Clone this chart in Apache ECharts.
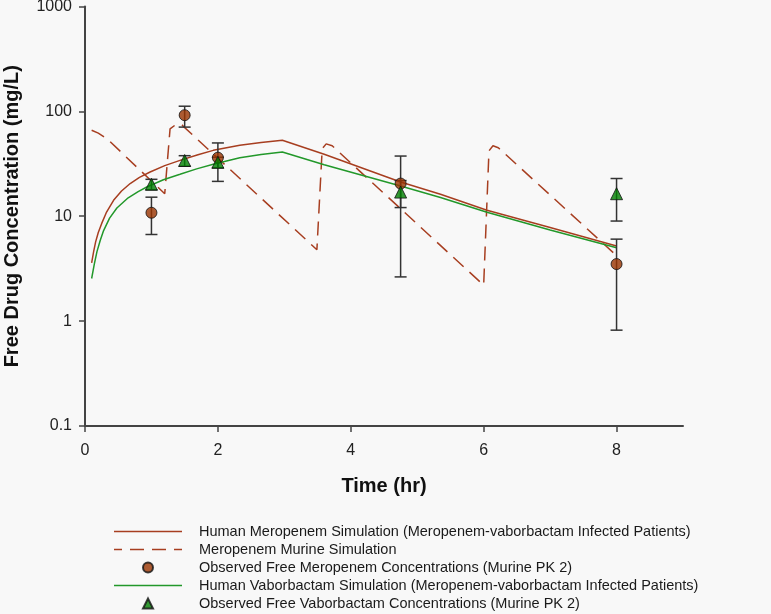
<!DOCTYPE html>
<html>
<head>
<meta charset="utf-8">
<script src="https://cdn.jsdelivr.net/npm/echarts@6/dist/echarts.min.js"></script>
<style>
html,body{margin:0;padding:0;background:#f8f8f8;}
#chart{width:771px;height:614px;}
</style>
</head>
<body>
<div id="chart"></div>
<script>
// ---- Data ----
const xTicks = [0, 2, 4, 6, 8];

const humanMeroTime = [0.1, 0.13, 0.16, 0.2, 0.25, 0.32, 0.43, 0.55, 0.68, 0.82, 0.98, 1.2, 1.43, 1.7, 1.93, 2.33, 2.65, 2.97, 3.6, 4.75, 5.35, 6.05, 7, 8];
const humanMeroConc = [3.6, 4.6, 5.7, 7.0, 8.5, 10.8, 14.2, 17.4, 20.5, 23.5, 26.4, 30.4, 34.1, 38.6, 42.5, 47.5, 50.5, 53, 39, 21.2, 16.2, 11.4, 7.8, 5.2];

const murineMeroTime = [0.1, 0.2, 0.33, 1.2, 1.28, 1.38, 1.46, 3.49, 3.57, 3.63, 3.72, 6.0, 6.08, 6.14, 6.22, 7.95];
const murineMeroConc = [66, 62, 55, 16.4, 68, 76, 74, 4.8, 44, 49, 47, 2.2, 42, 47, 45, 4.5];

const obsMeroTime = [1, 1.5, 2, 4.75, 8];
const obsMeroConc = [10.8, 92, 36.2, 20.5, 3.5];
const obsMeroLow  = [6.7, 70.8, 21.5, 2.64, 0.82];
const obsMeroHigh = [15.2, 112, 50, 37.5, 6.05];

const humanVaboTime = [0.1, 0.14, 0.18, 0.23, 0.28, 0.37, 0.48, 0.65, 0.8, 0.93, 1.18, 1.43, 1.68, 1.93, 2.33, 2.65, 2.97, 3.6, 4.75, 5.35, 6.05, 7, 8];
const humanVaboConc = [2.55, 3.5, 4.6, 5.9, 7.3, 9.6, 12.0, 15.0, 17.2, 19.0, 22.3, 25.1, 28.3, 31.3, 36.2, 38.8, 41, 31, 19.4, 15.1, 10.9, 7.4, 5.0];

const obsVaboTime = [1, 1.5, 2, 4.75, 8];
const obsVaboConc = [20.2, 34, 32.7, 17, 16.4];
const obsVaboLow  = [17.9, 30, 29, 12.1, 9.0];
const obsVaboHigh = [22.5, 37.8, 36.5, 21.9, 22.9];

const names = [
  'Human Meropenem Simulation (Meropenem-vaborbactam Infected Patients)',
  'Meropenem Murine Simulation',
  'Observed Free Meropenem Concentrations (Murine PK 2)',
  'Human Vaborbactam Simulation (Meropenem-vaborbactam Infected Patients)',
  'Observed Free Vaborbactam Concentrations (Murine PK 2)'
];

// ---- Build series data ----
const zip = (a, b) => a.map((v, i) => [v, b[i]]);
const zip3 = (a, b, c) => a.map((v, i) => [v, b[i], c[i]]);

const brownLine = '#a73e20';
const greenLine = '#22982a';
const brownMark = '#993300';
const greenMark = '#008000';

function errRender(params, api) {
  const x = api.value(0), lo = api.value(1), hi = api.value(2);
  const p1 = api.coord([x, lo]);
  const p2 = api.coord([x, hi]);
  const w = 6;
  const st = { stroke: '#333333', lineWidth: 1.5 };
  return {
    type: 'group',
    children: [
      { type: 'line', shape: { x1: p1[0], y1: p1[1], x2: p2[0], y2: p2[1] }, style: st },
      { type: 'line', shape: { x1: p1[0] - w, y1: p1[1], x2: p1[0] + w, y2: p1[1] }, style: st },
      { type: 'line', shape: { x1: p2[0] - w, y1: p2[1], x2: p2[0] + w, y2: p2[1] }, style: st }
    ]
  };
}

// legend icon shapes (68 x 10 box)
const corners = 'M0,0h0.01v0.01h-0.01z M67.99,9.99h0.01v0.01h-0.01z ';
const solidIcon = 'path://' + corners + 'M0,4.25h68v1.5h-68z';
const dashedIcon = 'path://' + corners + 'M0,4.25h8v1.5h-8z M16,4.25h14v1.5h-14z M38,4.25h14v1.5h-14z M60,4.25h8v1.5h-8z';
const triIcon = 'path://M0,10L5,0L10,10z';

const chart = echarts.init(document.getElementById('chart'), null, { renderer: 'canvas' });

const axisColor = '#444444';
const fontFam = 'Liberation Sans, Arial, sans-serif';
const option = {
  backgroundColor: '#f8f8f8',
  animation: false,
  grid: { left: 85, right: 88, top: 6.5, bottom: 188, containLabel: false, outerBoundsMode: 'none' },
  legend: {
    orient: 'vertical',
    left: 109,
    top: 519,
    height: 200,
    itemWidth: 68,
    itemHeight: 10,
    itemGap: 3,
    symbolKeepAspect: true,
    data: [
      { name: names[0], icon: solidIcon, itemStyle: { color: brownLine, borderWidth: 0 } },
      { name: names[1], icon: dashedIcon, itemStyle: { color: brownLine, borderWidth: 0 } },
      { name: names[2], icon: 'circle' },
      { name: names[3], icon: solidIcon, itemStyle: { color: greenLine, borderWidth: 0 } },
      { name: names[4], icon: triIcon }
    ],
    textStyle: {
      fontFamily: fontFam,
      fontSize: 14.5,
      color: '#1a1a1a',
      padding: [0, 0, 0, 12]
    }
  },
  xAxis: {
    type: 'value',
    min: 0,
    max: 9,
    interval: 2,
    name: 'Time (hr)',
    nameLocation: 'middle',
    nameGap: 50,
    nameTextStyle: { fontFamily: fontFam, fontSize: 20, fontWeight: 'bold', color: '#111' },
    axisLine: { show: true, lineStyle: { color: axisColor, width: 2 } },
    axisTick: { show: true, length: 6, lineStyle: { color: axisColor, width: 1.5 }, customValues: xTicks },
    axisLabel: { fontFamily: fontFam, fontSize: 16, color: '#222', margin: 17, customValues: xTicks },
    splitLine: { show: false }
  },
  yAxis: {
    type: 'log',
    logBase: 10,
    min: 0.1,
    max: 1000,
    name: 'Free Drug Concentration (mg/L)',
    nameLocation: 'middle',
    nameGap: 63,
    nameTextStyle: { fontFamily: fontFam, fontSize: 20, fontWeight: 'bold', color: '#111' },
    axisLine: { show: true, lineStyle: { color: axisColor, width: 2 } },
    axisTick: { show: true, length: 6, lineStyle: { color: axisColor, width: 1.5 } },
    minorTick: { show: false },
    axisLabel: {
      fontFamily: fontFam, fontSize: 16, color: '#222', margin: 13,
      formatter: function (v) { return String(Number(v.toPrecision(6))); }
    },
    splitLine: { show: false }
  },
  series: [
    {
      name: names[0], type: 'line', data: zip(humanMeroTime, humanMeroConc),
      symbol: 'none', lineStyle: { color: brownLine, width: 1.5 }, itemStyle: { color: brownLine }, z: 2
    },
    {
      name: names[1], type: 'line', data: zip(murineMeroTime, murineMeroConc),
      symbol: 'none', lineStyle: { color: brownLine, width: 1.5, type: [14, 8] }, itemStyle: { color: brownLine }, z: 2
    },
    {
      name: names[3], type: 'line', data: zip(humanVaboTime, humanVaboConc),
      symbol: 'none', lineStyle: { color: greenLine, width: 1.5 }, itemStyle: { color: greenLine }, z: 2
    },
    {
      name: 'errMero', type: 'custom', renderItem: errRender, data: zip3(obsMeroTime, obsMeroLow, obsMeroHigh),
      encode: { x: 0, y: [1, 2] }, z: 3, silent: true
    },
    {
      name: 'errVabo', type: 'custom', renderItem: errRender, data: zip3(obsVaboTime, obsVaboLow, obsVaboHigh),
      encode: { x: 0, y: [1, 2] }, z: 3, silent: true
    },
    {
      name: names[2], type: 'scatter', data: zip(obsMeroTime, obsMeroConc),
      symbol: 'circle', symbolSize: 11,
      itemStyle: { color: brownMark, borderColor: '#111', borderWidth: 1 }, z: 4
    },
    {
      name: names[4], type: 'scatter', data: zip(obsVaboTime, obsVaboConc),
      symbol: 'triangle', symbolSize: 12,
      itemStyle: { color: greenMark, borderColor: '#111', borderWidth: 1 }, z: 5
    }
  ]
};
chart.setOption(option);
</script>
</body>
</html>
